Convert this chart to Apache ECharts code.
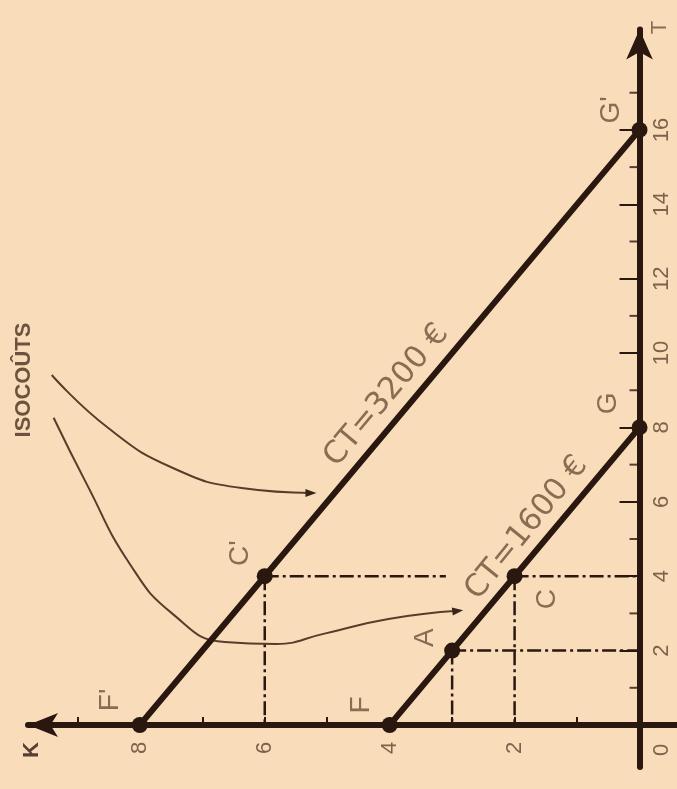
<!DOCTYPE html>
<html>
<head>
<meta charset="utf-8">
<script src="https://cdn.jsdelivr.net/npm/echarts@6/dist/echarts.min.js"></script>
<style>
  html, body { margin: 0; padding: 0; background: #f9ddbb; }
  #chart { width: 677px; height: 789px; }
</style>
</head>
<body>
<div id="chart"></div>
<script>
// K runs to the left, T runs upward (the figure is drawn turned a quarter turn)
const kTicks = [1, 2, 3, 4, 5, 6, 7, 8, 9];
const kLabels = [2, 4, 6, 8];
const tMajor = [2, 4, 6, 8, 10, 12, 14, 16];
const tMinor = [1, 3, 5, 7, 9, 11, 13, 15, 17];

// isocost lines, points [K, T]
const lowCost = [[4, 0], [3, 2], [2, 4], [0, 8]];   // F, A, C, G
const highCost = [[8, 0], [6, 4], [0, 16]];         // F', C', G'

const guideLines = [
  [[6, 4], [3.1, 4]], [[6, 4], [6, 0]],
  [[2, 4], [0, 4]], [[2, 4], [2, 0]],
  [[3, 2], [0, 2]], [[3, 2], [3, 0]]
];

// hand-drawn pointer curves from the "isocoûts" note
const arrowTop = [[9.41, 9.41], [8.51, 7.99], [7.47, 6.91], [6.37, 6.37], [5.26, 6.24]];
const arrowBottom = [[9.38, 8.26], [8.86, 6.51], [8.16, 4.33], [7.47, 2.98], [6.64, 2.23],
  [5.82, 2.18], [5.06, 2.45], [4.02, 2.85], [2.91, 3.07]];

const ink = '#2a1810';
const soft = '#6e5038';

const chart = echarts.init(document.getElementById('chart'), null, { renderer: 'canvas' });

// label offsets are applied in the rotated frame; turn a screen offset into that frame
function screenOffset(dx, dy, deg) {
  const a = deg * Math.PI / 180;
  return [dx * Math.cos(a) - dy * Math.sin(a), dx * Math.sin(a) + dy * Math.cos(a)];
}

// text labels anchored on data points: [text, [K, T], screen offset, rotate, style]
const letter = { fontSize: 28, color: soft, fontFamily: 'Liberation Sans' };
const ctStyle = { fontSize: 31, color: soft, fontFamily: 'DejaVu Sans' };
const tickStyle = { fontSize: 22, color: '#5e4430', fontFamily: 'Liberation Sans' };
const notes = [
  ['F', [4, 0], [-28, -20], 90, letter],
  ['A', [3, 2], [-27, -13], 90, letter],
  ['C', [2, 4], [33, 23], 90, letter],
  ['G', [0, 8], [-31, -24], 90, letter],
  ["F'", [8, 0], [-30, -25], 90, letter],
  ["C'", [6, 4], [-24, -23], 90, letter],
  ["G'", [0, 16], [-28, -20], 90, letter],
  ['CT=3200 €', [4, 8], [-3, -32], 50, ctStyle],
  ['CT=1600 €', [1.5, 5], [-19, -11], 51, ctStyle],
  ['ISOCOÛTS', [9.41, 9.41], [-28, 5], 90, { fontSize: 22, fontWeight: 'bold', color: '#4a3020', fontFamily: 'Liberation Sans' }],
  ['0', [0, 0], [22, 25], 90, tickStyle],
  ['T', [0, 18.7], [20, -2], 90, { fontSize: 22, color: soft, fontFamily: 'Liberation Sans' }],
  ['K', [9.79, 0], [4, 25], 90, { fontSize: 22, fontWeight: 'bold', color: ink, fontFamily: 'Liberation Sans' }],
  ...kLabels.map((k) => [String(k), [k, 0], [0, 23], 90, tickStyle]),
  ...tMajor.map((t) => [String(t), [0, t], [22, 0], 90, tickStyle])
];

function pointerSeries(points, rot) {
  return {
    type: 'line',
    smooth: 0.5,
    silent: true,
    symbol: 'none',
    showSymbol: true,
    lineStyle: { color: '#5b3b2a', width: 2 },
    data: points.map((p, i) => i === points.length - 1
      ? { value: p, symbol: 'triangle', symbolSize: [8, 11], symbolRotate: rot, itemStyle: { color: '#3a2418' } }
      : { value: p })
  };
}

function isocostSeries(points) {
  return {
    type: 'line',
    silent: true,
    symbol: 'circle',
    symbolSize: 16,
    itemStyle: { color: ink },
    lineStyle: { color: ink, width: 6 },
    data: points,
    z: 5
  };
}

const option = {
  backgroundColor: '#f9ddbb',
  animation: false,
  grid: { left: 28, right: 0, top: 29.5, bottom: 22, containLabel: false, outerBoundsMode: 'none' },
  xAxis: {
    type: 'value',
    inverse: true,
    min: -0.6,
    max: 9.79,
    axisLine: { onZero: true, symbol: ['arrow', 'none'], symbolSize: [18, 30], lineStyle: { color: ink, width: 6 } },
    axisTick: { inside: true, length: 8, customValues: kTicks, lineStyle: { color: ink, width: 2 } },
    axisLabel: { show: false },
    splitLine: { show: false }
  },
  yAxis: {
    type: 'value',
    position: 'right',
    min: -1.13,
    max: 18.7,
    axisLine: { onZero: true, symbol: ['none', 'arrow'], symbolSize: [20, 30], lineStyle: { color: ink, width: 6 } },
    axisTick: { inside: true, length: 20, customValues: tMajor, lineStyle: { color: ink, width: 2 } },
    axisLabel: { show: false },
    splitLine: { show: false }
  },
  series: [
    ...guideLines.map((seg) => ({
      type: 'line',
      silent: true,
      symbol: 'none',
      lineStyle: { color: ink, width: 2.5, type: [14, 4, 3, 4] },
      data: seg
    })),
    {
      // short ticks at the odd T values
      type: 'scatter',
      silent: true,
      symbol: 'rect',
      symbolSize: [10, 2],
      symbolOffset: [-5, 0],
      itemStyle: { color: ink },
      data: tMinor.map((t) => [0, t])
    },
    pointerSeries(arrowTop, -90),
    pointerSeries(arrowBottom, -83),
    isocostSeries(lowCost),
    isocostSeries(highCost),
    {
      type: 'scatter',
      silent: true,
      symbolSize: 0,
      z: 6,
      data: notes.map(([text, at, off, rotate, style]) => ({
        value: at,
        label: Object.assign({ show: true, position: 'inside', formatter: text, offset: screenOffset(off[0], off[1], rotate), rotate }, style)
      }))
    }
  ]
};

chart.setOption(option);
</script>
</body>
</html>
